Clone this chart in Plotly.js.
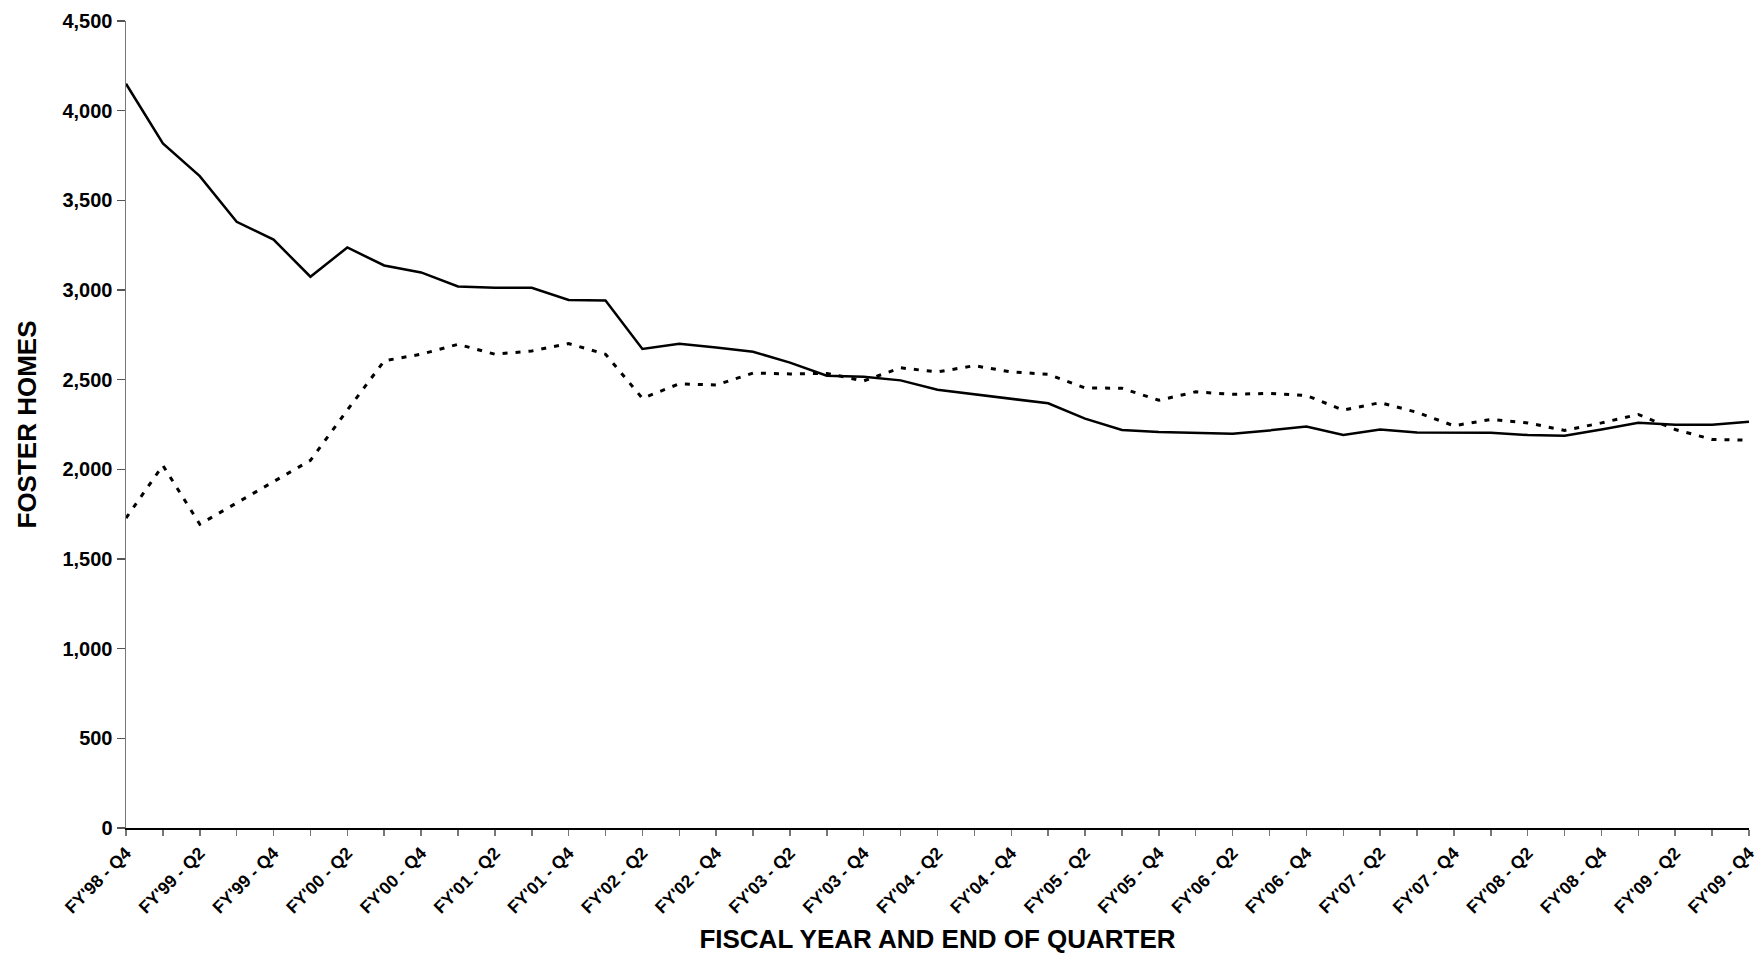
<!DOCTYPE html>
<html>
<head>
<meta charset="utf-8">
<script src="https://cdn.plot.ly/plotly-3.0.1.min.js"></script>
<style>
  html, body { margin: 0; padding: 0; background: #ffffff; }
  #chart { width: 1758px; height: 957px; }
</style>
</head>
<body>
<div id="chart"></div>
<script>
// Quarter categories (FY'98 Q4 through FY'09 Q4)
const categories = [
  "FY'98 - Q4",
  "FY'99 - Q1", "FY'99 - Q2", "FY'99 - Q3", "FY'99 - Q4",
  "FY'00 - Q1", "FY'00 - Q2", "FY'00 - Q3", "FY'00 - Q4",
  "FY'01 - Q1", "FY'01 - Q2", "FY'01 - Q3", "FY'01 - Q4",
  "FY'02 - Q1", "FY'02 - Q2", "FY'02 - Q3", "FY'02 - Q4",
  "FY'03 - Q1", "FY'03 - Q2", "FY'03 - Q3", "FY'03 - Q4",
  "FY'04 - Q1", "FY'04 - Q2", "FY'04 - Q3", "FY'04 - Q4",
  "FY'05 - Q1", "FY'05 - Q2", "FY'05 - Q3", "FY'05 - Q4",
  "FY'06 - Q1", "FY'06 - Q2", "FY'06 - Q3", "FY'06 - Q4",
  "FY'07 - Q1", "FY'07 - Q2", "FY'07 - Q3", "FY'07 - Q4",
  "FY'08 - Q1", "FY'08 - Q2", "FY'08 - Q3", "FY'08 - Q4",
  "FY'09 - Q1", "FY'09 - Q2", "FY'09 - Q3", "FY'09 - Q4"
];

// Solid line series
const solidSeries = [
  4150, 3817, 3635, 3380, 3281, 3074, 3237, 3137, 3098, 3020,
  3012, 3012, 2944, 2941, 2671, 2700, 2679, 2656, 2595, 2522,
  2516, 2496, 2444, 2420, 2396, 2368, 2283, 2219, 2208, 2205,
  2198, 2217, 2239, 2192, 2222, 2206, 2203, 2204, 2191, 2187,
  2222, 2260, 2248, 2248, 2265
];

// Dotted line series
const dottedSeries = [
  1728, 2022, 1694, 1813, 1931, 2050, 2330, 2605, 2642, 2697,
  2642, 2660, 2701, 2642, 2396, 2477, 2470, 2537, 2532, 2535,
  2493, 2566, 2543, 2578, 2543, 2530, 2454, 2452, 2385, 2432,
  2418, 2424, 2412, 2330, 2372, 2318, 2243, 2278, 2259, 2217,
  2259, 2306, 2222, 2167, 2162
];

const yTickVals = [0, 500, 1000, 1500, 2000, 2500, 3000, 3500, 4000, 4500];
const yTickText = ["0", "500", "1,000", "1,500", "2,000", "2,500", "3,000", "3,500", "4,000", "4,500"];

const FONT = "'Liberation Sans Narrow', 'Arial Narrow', 'Liberation Sans', Arial, sans-serif";

const traces = [
  {
    x: categories, y: solidSeries, type: 'scatter', mode: 'lines',
    line: { color: '#000000', width: 2.5 },
    hoverinfo: 'x+y', showlegend: false
  },
  {
    x: categories, y: dottedSeries, type: 'scatter', mode: 'lines',
    line: { color: '#000000', width: 3, dash: '5px,8px' },
    hoverinfo: 'x+y', showlegend: false
  }
];

const layout = {
  width: 1758, height: 957,
  margin: { l: 126, r: 9, t: 21, b: 129 },
  paper_bgcolor: '#ffffff', plot_bgcolor: '#ffffff',
  showlegend: false,
  font: { family: FONT, color: '#000000' },
  xaxis: {
    type: 'category',
    range: [0, categories.length - 1],
    showgrid: false, zeroline: false,
    showline: true, linecolor: '#000000', linewidth: 2,
    ticks: 'outside', ticklen: 6, tickwidth: 1.5, tickcolor: '#777777',
    dtick: 1, ticklabelstep: 2,
    tickangle: -45,
    tickfont: { family: FONT, size: 17.5, color: '#000000', weight: 'bold' },
    title: { text: 'FISCAL YEAR AND END OF QUARTER', standoff: 14,
             font: { family: FONT, size: 26, color: '#000000', weight: 'bold' } }
  },
  yaxis: {
    range: [0, 4500],
    tickvals: yTickVals, ticktext: yTickText,
    showgrid: false, zeroline: false,
    showline: true, linecolor: '#777777', linewidth: 1.5,
    ticks: 'outside', ticklen: 8, tickwidth: 1.5, tickcolor: '#555555',
    tickfont: { family: FONT, size: 20, color: '#000000', weight: 'bold' },
    title: { text: 'FOSTER HOMES', standoff: 18,
             font: { family: FONT, size: 26, color: '#000000', weight: 'bold' } }
  }
};

Plotly.newPlot('chart', traces, layout, { displayModeBar: false, staticPlot: true });
</script>
</body>
</html>
